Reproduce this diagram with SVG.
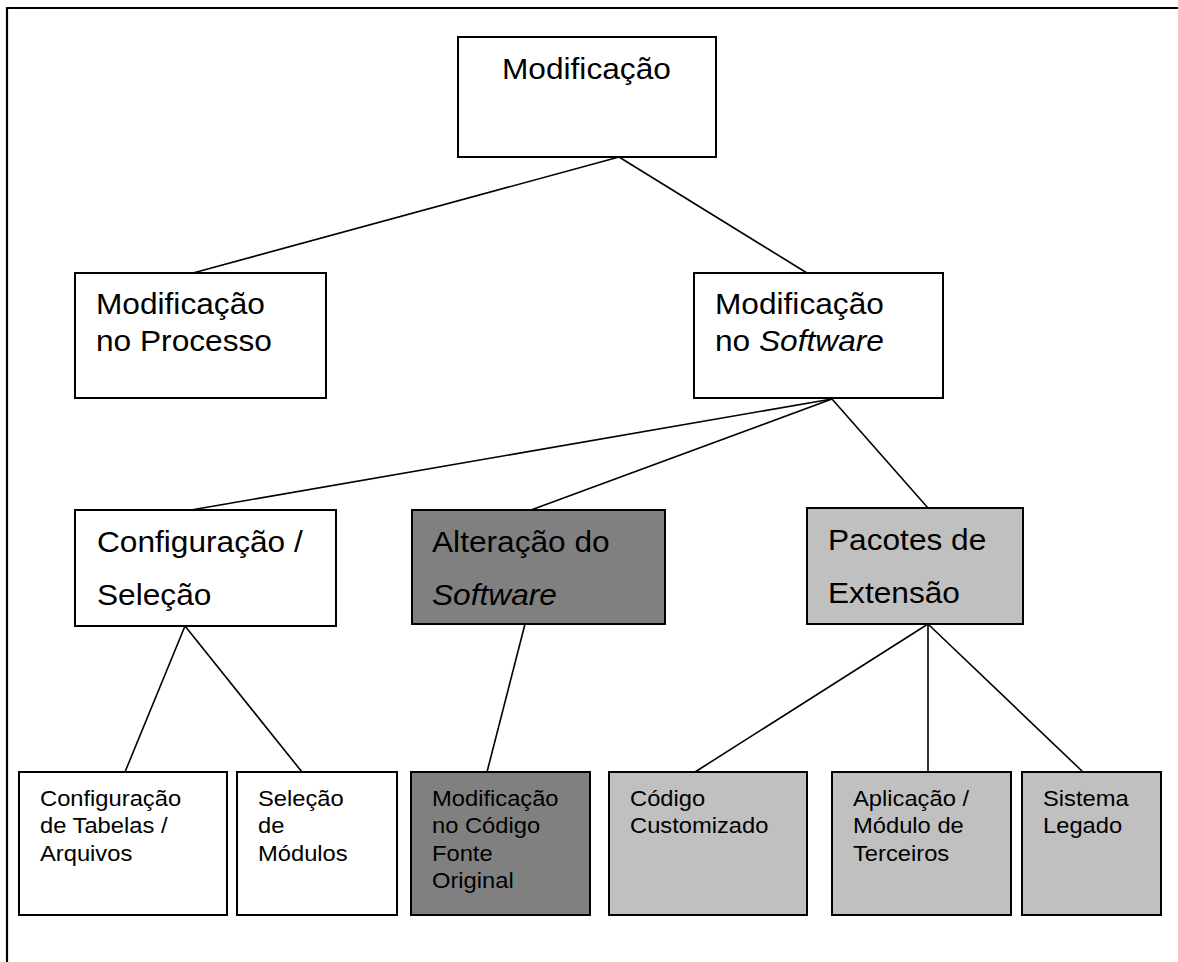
<svg xmlns="http://www.w3.org/2000/svg" width="1178" height="962" viewBox="0 0 1178 962">
  <style>
    .box { stroke: #000; stroke-width: 2; }
    .white { fill: #fff; }
    .dark { fill: #808080; }
    .light { fill: #c0c0c0; }
    .big { font-family: "Liberation Sans", Arial, sans-serif; font-size: 30px; fill: #000; }
    .small { font-family: "Liberation Sans", Arial, sans-serif; font-size: 22.5px; fill: #000; }
    .it { font-style: italic; }
    .conn line { stroke: #000; stroke-width: 1.6; }
  </style>

  <rect width="1178" height="962" fill="#fff"/>
  <!-- page frame -->
  <path d="M7 962 V8 H1178" fill="none" stroke="#000" stroke-width="2.2"/>

  <!-- connectors -->
  <g id="connectors" class="conn">
    <line x1="619" y1="157" x2="193" y2="273"/>
    <line x1="619" y1="157" x2="807" y2="273"/>
    <line x1="832" y1="399" x2="191" y2="510"/>
    <line x1="832" y1="399" x2="531" y2="510"/>
    <line x1="832" y1="399" x2="928" y2="508"/>
    <line x1="185" y1="626" x2="125" y2="772"/>
    <line x1="185" y1="626" x2="302" y2="772"/>
    <line x1="525" y1="624" x2="487" y2="772"/>
    <line x1="928" y1="624" x2="695" y2="772"/>
    <line x1="928" y1="624" x2="928" y2="772"/>
    <line x1="928" y1="624" x2="1083" y2="772"/>
  </g>

  <g id="modificacao">
    <rect class="box white" x="458" y="37" width="258" height="120"/>
    <text class="big" transform="translate(502 79) scale(1.055 1)">Modificação</text>
  </g>

  <g id="mod-processo">
    <rect class="box white" x="75" y="273" width="251" height="125"/>
    <text class="big" transform="translate(96 314) scale(1.055 1)"><tspan x="0" y="0">Modificação</tspan><tspan x="0" y="37">no Processo</tspan></text>
  </g>

  <g id="mod-software">
    <rect class="box white" x="694" y="273" width="249" height="125"/>
    <text class="big" transform="translate(715 314) scale(1.055 1)"><tspan x="0" y="0">Modificação</tspan><tspan x="0" y="37">no <tspan class="it">Software</tspan></tspan></text>
  </g>

  <g id="config-selecao">
    <rect class="box white" x="75" y="510" width="261" height="116"/>
    <text class="big" transform="translate(97 552) scale(1.055 1)"><tspan x="0" y="0">Configuração /</tspan><tspan x="0" y="53">Seleção</tspan></text>
  </g>

  <g id="alteracao-software">
    <rect class="box dark" x="412" y="510" width="253" height="114"/>
    <text class="big" transform="translate(432 552) scale(1.055 1)"><tspan x="0" y="0">Alteração do</tspan><tspan x="0" y="53" class="it">Software</tspan></text>
  </g>

  <g id="pacotes-extensao">
    <rect class="box light" x="807" y="508" width="216" height="116"/>
    <text class="big" transform="translate(828 550) scale(1.055 1)"><tspan x="0" y="0">Pacotes de</tspan><tspan x="0" y="53">Extensão</tspan></text>
  </g>

  <g id="config-tabelas">
    <rect class="box white" x="19" y="772" width="208" height="143"/>
    <text class="small" transform="translate(40 806) scale(1.055 1)"><tspan x="0" y="0">Configuração</tspan><tspan x="0" y="27.5">de Tabelas /</tspan><tspan x="0" y="55">Arquivos</tspan></text>
  </g>

  <g id="selecao-modulos">
    <rect class="box white" x="237" y="772" width="160" height="143"/>
    <text class="small" transform="translate(258 806) scale(1.055 1)"><tspan x="0" y="0">Seleção</tspan><tspan x="0" y="27.5">de</tspan><tspan x="0" y="55">Módulos</tspan></text>
  </g>

  <g id="mod-codigo-fonte">
    <rect class="box dark" x="411" y="772" width="179" height="143"/>
    <text class="small" transform="translate(432 806) scale(1.055 1)"><tspan x="0" y="0">Modificação</tspan><tspan x="0" y="27.5">no Código</tspan><tspan x="0" y="55">Fonte</tspan><tspan x="0" y="82.5">Original</tspan></text>
  </g>

  <g id="codigo-customizado">
    <rect class="box light" x="609" y="772" width="198" height="143"/>
    <text class="small" transform="translate(630 806) scale(1.055 1)"><tspan x="0" y="0">Código</tspan><tspan x="0" y="27.5">Customizado</tspan></text>
  </g>

  <g id="aplicacao-terceiros">
    <rect class="box light" x="832" y="772" width="179" height="143"/>
    <text class="small" transform="translate(853 806) scale(1.055 1)"><tspan x="0" y="0">Aplicação /</tspan><tspan x="0" y="27.5">Módulo de</tspan><tspan x="0" y="55">Terceiros</tspan></text>
  </g>

  <g id="sistema-legado">
    <rect class="box light" x="1022" y="772" width="139" height="143"/>
    <text class="small" transform="translate(1043 806) scale(1.055 1)"><tspan x="0" y="0">Sistema</tspan><tspan x="0" y="27.5">Legado</tspan></text>
  </g>
</svg>
